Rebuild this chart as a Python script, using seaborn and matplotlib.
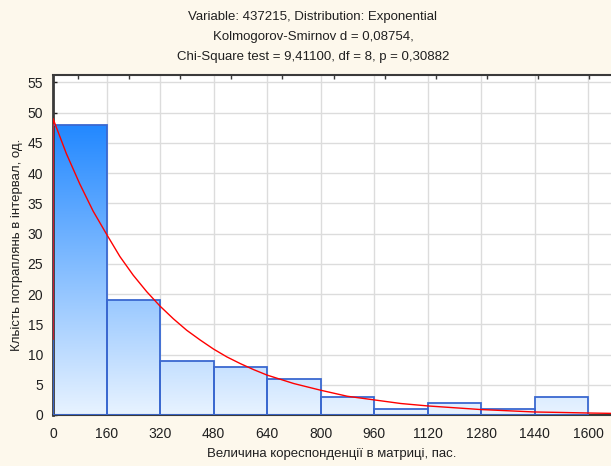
import numpy as np
import pandas as pd
import matplotlib
matplotlib.use("Agg")
import matplotlib.pyplot as plt
from matplotlib.colors import LinearSegmentedColormap
import seaborn as sns

# ---- data ----
bin_edges = [0, 160, 320, 480, 640, 800, 960, 1120, 1280, 1440, 1600]
bin_counts = [48, 19, 9, 8, 6, 3, 1, 2, 1, 3]
x_ticks = [0, 160, 320, 480, 640, 800, 960, 1120, 1280, 1440, 1600]
y_ticks = [0, 5, 10, 15, 20, 25, 30, 35, 40, 45, 50, 55]
# fitted exponential curve (expected frequencies)
curve_x = [0, 0, 40, 80, 120, 160, 200, 240, 280, 320, 360, 400, 440, 480,
           520, 560, 600, 640, 720, 800, 880, 960, 1040, 1120, 1200, 1280,
           1360, 1440, 1520, 1600, 1680]
curve_y = [12.5, 49.0, 43.2, 38.2, 33.7, 29.9, 26.2, 23.1, 20.4, 18.0, 15.9,
           14.0, 12.4, 10.9, 9.6, 8.5, 7.5, 6.6, 5.2, 4.1, 3.1, 2.5, 1.9,
           1.5, 1.2, 0.9, 0.7, 0.5, 0.42, 0.33, 0.26]

title_lines = ["Variable: 437215, Distribution: Exponential",
               "Kolmogorov-Smirnov d = 0,08754,",
               "Chi-Square test = 9,41100, df = 8, p = 0,30882"]
x_label = "Величина кореспонденції в матриці, пас."
y_label = "Кльість потраплянь в інтервал, од."

sns.set_style("white")
plt.rcParams['font.family'] = ['Liberation Sans', 'DejaVu Sans']

W, H = 611, 466
fig = plt.figure(figsize=(W / 100, H / 100), dpi=100)
fig.patch.set_facecolor('#FDF8EC')
ax = fig.add_axes([53 / W, (H - 415) / H, (W - 53) / W, (415 - 74.7) / H])
ax.set_facecolor('white')

centers = [(a + b) / 2 for a, b in zip(bin_edges[:-1], bin_edges[1:])]
df = pd.DataFrame({"x": centers, "n": bin_counts})
sns.histplot(data=df, x="x", weights="n", bins=bin_edges, ax=ax,
             stat="count", element="bars", fill=True,
             facecolor="none", edgecolor="#3A68D0", linewidth=1.3, zorder=3)

xmax = (W - 53) / 0.3344
ymax = 56.25

cmap = LinearSegmentedColormap.from_list("g", ["#E8F3FF", "#2288FF"])
grad = np.linspace(0, 1, 256).reshape(-1, 1)
for p in ax.patches:
    im = ax.imshow(grad, extent=(0, xmax, 0, max(bin_counts)), origin='lower',
                   cmap=cmap, aspect='auto', zorder=2, interpolation='bilinear')
    im.set_clip_path(p)

sns.lineplot(x=curve_x, y=curve_y, ax=ax, color="#FF0000", linewidth=1.0,
             estimator=None, sort=False, zorder=4)

ax.set_xlim(0, xmax)
ax.set_ylim(0, ymax)
ax.set_xticks(x_ticks)
ax.set_yticks(y_ticks)
ax.grid(True, color='#DCDCDC', linewidth=1.0)
ax.set_axisbelow(True)
ax.tick_params(axis='x', length=0, pad=9, labelsize=10, colors='#202020')
ax.tick_params(axis='y', direction='in', length=3, width=1, pad=7,
               labelsize=10, colors='#202020', left=True)
for s in ['left', 'bottom', 'top']:
    ax.spines[s].set_color('#3A3A3A')
ax.spines['left'].set_linewidth(2.0)
ax.spines['bottom'].set_linewidth(1.5)
ax.spines['top'].set_linewidth(1.5)
ax.spines['right'].set_visible(False)

ax.set_xlabel(x_label, fontsize=9.5, color='#202020', labelpad=5)
ax.set_ylabel(y_label, fontsize=9.5, color='#202020', labelpad=3)

# top tick marks
top = ax.twiny()
top.set_xlim(ax.get_xlim())
top.set_xticks([75 + 152.8 * i for i in range(11)])
top.set_xticklabels([])
top.tick_params(axis='x', direction='in', length=3, width=1, colors='#3A3A3A')
for s in top.spines.values():
    s.set_visible(False)

for i, t in enumerate(title_lines):
    fig.text(313 / W, 1 - (17 + 20 * i) / H, t, ha='center', va='center',
             fontsize=9.5, color='#202020')

fig.savefig("out.png", dpi=100, facecolor=fig.get_facecolor())
